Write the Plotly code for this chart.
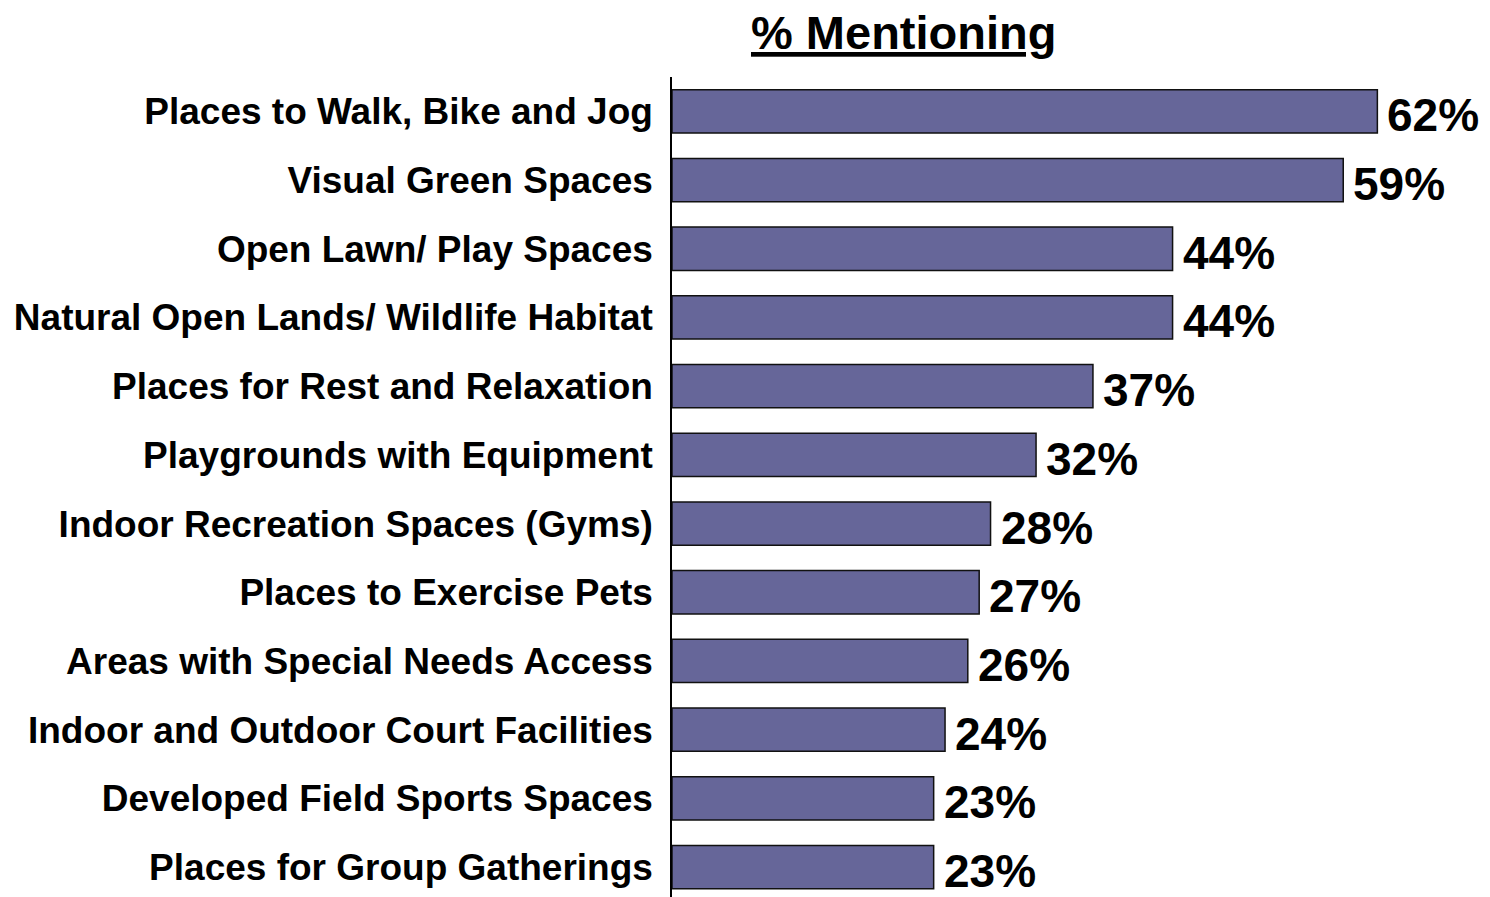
import plotly.graph_objects as go

categories = [
    "Places to Walk, Bike and Jog",
    "Visual Green Spaces",
    "Open Lawn/ Play Spaces",
    "Natural Open Lands/ Wildlife Habitat",
    "Places for Rest and Relaxation",
    "Playgrounds with Equipment",
    "Indoor Recreation Spaces (Gyms)",
    "Places to Exercise Pets",
    "Areas with Special Needs Access",
    "Indoor and Outdoor Court Facilities",
    "Developed Field Sports Spaces",
    "Places for Group Gatherings",
]
values = [62, 59, 44, 44, 37, 32, 28, 27, 26, 24, 23, 23]
value_labels = [f"{v}%" for v in values]
title_text = "% Mentioning"

FONT = "Liberation Sans, Arial, sans-serif"

# page body has an 8px default margin; compensate
OFF = 8
W, H = 1490 - OFF, 897 - OFF
L, T = 672 - OFF, 77 - OFF
PW, PH = W - L, H - T

fig = go.Figure()
fig.add_trace(go.Bar(
    x=values,
    y=categories,
    orientation="h",
    marker=dict(color="#666699", line=dict(color="#111111", width=1.5)),
    hoverinfo="skip",
))

for cat, v, lab in zip(categories, values, value_labels):
    fig.add_annotation(
        x=v, y=cat, xref="x", yref="y",
        text=f"<b>{lab}</b>", showarrow=False,
        xanchor="left", yanchor="middle", xshift=8, yshift=-4,
        font=dict(family=FONT, size=46, color="black"),
    )

fig.add_annotation(
    x=(903 - 672) / PW, y=1 + (77 - 33) / PH, xref="paper", yref="paper",
    text=f"<b><u>{title_text}</u></b>", showarrow=False,
    xanchor="center", yanchor="middle", borderpad=0,
    font=dict(family=FONT, size=47, color="black"),
)

fig.update_layout(
    width=W, height=H,
    margin=dict(l=L, r=0, t=T, b=0, pad=0),
    plot_bgcolor="white", paper_bgcolor="white",
    bargap=0.37,
    showlegend=False,
    xaxis=dict(range=[0, 71.9], visible=False, fixedrange=True),
    yaxis=dict(
        categoryorder="array", categoryarray=categories,
        range=[11.436, -0.5],
        showline=True, linecolor="black", linewidth=1.5,
        showgrid=False, zeroline=False,
        ticks="", ticklabelstandoff=10,
        tickfont=dict(family=FONT, size=37, color="black"),
        tickprefix="<b>", ticksuffix="</b>",
        fixedrange=True,
    ),
)

fig.write_html("out.html")
